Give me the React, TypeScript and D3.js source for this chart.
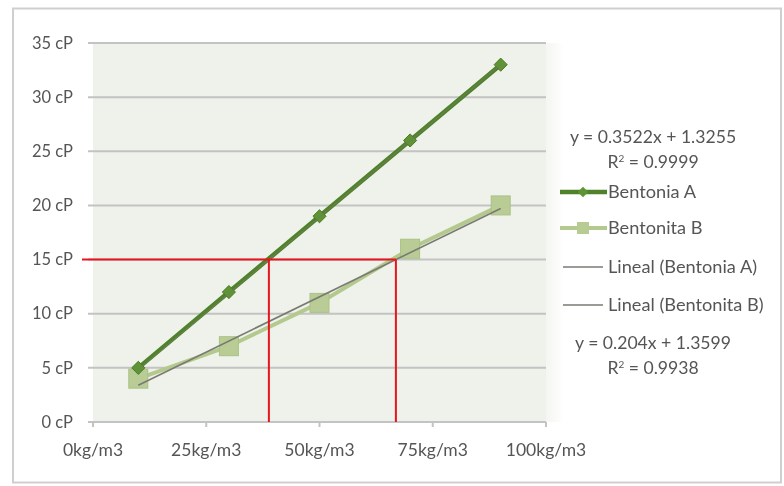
import React from "react";
import * as d3 from "d3";

// Concentration (kg/m3) and viscosity (cP) measurements
const concentrations = [10, 30, 50, 70, 90];
const viscosityA = [5, 12, 19, 26, 33];
const viscosityB = [4, 7, 11, 16, 20];

// Linear fits reported for each series
const fitA = { slope: 0.3522, intercept: 1.3255, r2: "0.9999" };
const fitB = { slope: 0.204, intercept: 1.3599, r2: "0.9938" };

const targetViscosity = 15;

const xTicks = [0, 25, 50, 75, 100];
const yTicks = [0, 5, 10, 15, 20, 25, 30, 35];

const legendLabels = ["Bentonia A", "Bentonita B", "Lineal (Bentonia A)", "Lineal (Bentonita B)"];

const W = 784;
const H = 486;
const plot = { left: 93, right: 546, top: 43, bottom: 422 };

const FONT = "Lato, 'Open Sans', sans-serif";
const TEXT = "#555555";
const GREEN_A = "#4f8229";
const GREEN_B = "#b4c98d";
const TREND = "#7a7a72";
const RED = "#e8131e";

export default function App() {
  const x = d3.scaleLinear().domain([0, 100]).range([plot.left, plot.right]);
  const y = d3.scaleLinear().domain([0, 35]).range([plot.bottom, plot.top]);

  const line = d3
    .line<[number, number]>()
    .x((d) => x(d[0]))
    .y((d) => y(d[1]));

  const ptsA = concentrations.map((c, i) => [c, viscosityA[i]] as [number, number]);
  const ptsB = concentrations.map((c, i) => [c, viscosityB[i]] as [number, number]);

  const fitLine = (f: { slope: number; intercept: number }) =>
    [10, 90].map((c) => [c, f.slope * c + f.intercept] as [number, number]);

  const crossA = (targetViscosity - fitA.intercept) / fitA.slope;
  const crossB = (targetViscosity - fitB.intercept) / fitB.slope;

  const diamond = d3.symbol().type(d3.symbolDiamond2).size(110)();

  const legendX = 560;
  const legendRows = [192, 228, 267, 305];
  const eqSize = 17.6;
  const legendSize = 18.2;

  return (
    <svg
      width={W}
      height={H}
      style={{ position: "absolute", left: 0, top: 0, background: "#fff" }}
      fontFamily={FONT}
    >
      <defs>
        <filter id="soft" x="-5%" y="-5%" width="110%" height="110%">
          <feGaussianBlur stdDeviation="0.6" />
        </filter>
        <linearGradient id="fade" x1="0" x2="1" y1="0" y2="0">
          <stop offset="0" stopColor="#f4f6f1" />
          <stop offset="1" stopColor="#ffffff" />
        </linearGradient>
      </defs>

      {/* chart frame */}
      <rect x={13} y={8.5} width={768} height={474} fill="#fff" stroke="#cfcfcf" strokeWidth={2} />

      <g filter="url(#soft)">
        {/* plot area */}
        <rect
          x={plot.left}
          y={plot.top}
          width={plot.right - plot.left}
          height={plot.bottom - plot.top}
          fill="#eef2ea"
        />
        <rect x={plot.right} y={plot.top} width={18} height={plot.bottom - plot.top} fill="url(#fade)" />

        {/* horizontal gridlines with left ticks */}
        {yTicks.map((t) => (
          <line
            key={`g${t}`}
            x1={plot.left - 5}
            x2={plot.right}
            y1={y(t)}
            y2={y(t)}
            stroke="#c3c3c3"
            strokeWidth={2}
          />
        ))}
        {yTicks.map((t) => (
          <text
            key={`yl${t}`}
            x={73}
            y={y(t)}
            dy="0.35em"
            textAnchor="end"
            fontSize={16.5}
            fill={TEXT}
          >
            {`${t} cP`}
          </text>
        ))}

        {/* x-axis ticks and labels */}
        {xTicks.map((t) => (
          <g key={`x${t}`}>
            <line x1={x(t)} x2={x(t)} y1={plot.bottom} y2={plot.bottom + 5} stroke="#c3c3c3" strokeWidth={2} />
            <text x={x(t)} y={plot.bottom + 28} dy="0.35em" textAnchor="middle" fontSize={17.5} fill={TEXT}>
              {`${t}kg/m3`}
            </text>
          </g>
        ))}

        {/* Bentonita B series */}
        <path d={line(ptsB) ?? ""} fill="none" stroke={GREEN_B} strokeWidth={4} />
        {ptsB.map((p, i) => (
          <rect
            key={`b${i}`}
            x={x(p[0]) - 9.5}
            y={y(p[1]) - 9.5}
            width={19}
            height={19}
            fill="#b9cc95"
            stroke="#abc086"
            strokeWidth={1}
          />
        ))}

        {/* Bentonia A series */}
        <path d={line(ptsA) ?? ""} fill="none" stroke={GREEN_A} strokeWidth={4.5} />
        {ptsA.map((p, i) => (
          <path
            key={`a${i}`}
            d={diamond ?? ""}
            transform={`translate(${x(p[0])},${y(p[1])})`}
            fill="#5f9434"
            stroke="#4a7b25"
            strokeWidth={1}
          />
        ))}

        {/* linear trendlines */}
        <path d={line(fitLine(fitA)) ?? ""} fill="none" stroke="#6f7f5e" strokeWidth={1.3} opacity={0.7} />
        <path d={line(fitLine(fitB)) ?? ""} fill="none" stroke={TREND} strokeWidth={1.6} />

        {/* 15 cP reference and intersections */}
        <line
          x1={plot.left - 11}
          x2={x(crossB)}
          y1={y(targetViscosity)}
          y2={y(targetViscosity)}
          stroke={RED}
          strokeWidth={2}
        />
        <line x1={x(crossA)} x2={x(crossA)} y1={y(targetViscosity)} y2={plot.bottom} stroke={RED} strokeWidth={2} />
        <line x1={x(crossB)} x2={x(crossB)} y1={y(targetViscosity)} y2={plot.bottom} stroke={RED} strokeWidth={2} />

        {/* trendline equations */}
        <text x={653} y={137} dy="0.35em" textAnchor="middle" fontSize={eqSize} fill={TEXT}>
          {`y = ${fitA.slope}x + ${fitA.intercept}`}
        </text>
        <text x={653} y={162} dy="0.35em" textAnchor="middle" fontSize={eqSize} fill={TEXT}>
          R<tspan dy="-6" fontSize={10}>2</tspan>
          <tspan dy="6">{` = ${fitA.r2}`}</tspan>
        </text>
        <text x={653} y={343} dy="0.35em" textAnchor="middle" fontSize={eqSize} fill={TEXT}>
          {`y = ${fitB.slope}x + ${fitB.intercept}`}
        </text>
        <text x={653} y={368} dy="0.35em" textAnchor="middle" fontSize={eqSize} fill={TEXT}>
          R<tspan dy="-6" fontSize={10}>2</tspan>
          <tspan dy="6">{` = ${fitB.r2}`}</tspan>
        </text>

        {/* legend */}
        <g>
          <line x1={legendX} x2={legendX + 47} y1={legendRows[0]} y2={legendRows[0]} stroke={GREEN_A} strokeWidth={4.5} />
          <path d={diamond ?? ""} transform={`translate(${legendX + 23},${legendRows[0]}) scale(0.8)`} fill="#5f9434" />
          <line x1={legendX} x2={legendX + 47} y1={legendRows[1]} y2={legendRows[1]} stroke={GREEN_B} strokeWidth={4} />
          <rect x={legendX + 17} y={legendRows[1] - 6} width={12} height={12} fill="#b7cb92" />
          <line x1={legendX + 3} x2={legendX + 43} y1={legendRows[2]} y2={legendRows[2]} stroke={TREND} strokeWidth={1.5} />
          <line x1={legendX + 3} x2={legendX + 43} y1={legendRows[3]} y2={legendRows[3]} stroke={TREND} strokeWidth={1.5} />
          {legendLabels.map((lab, i) => (
            <text key={lab} x={legendX + 48} y={legendRows[i]} dy="0.35em" fontSize={legendSize} fill={TEXT}>
              {lab}
            </text>
          ))}
        </g>
      </g>
    </svg>
  );
}
